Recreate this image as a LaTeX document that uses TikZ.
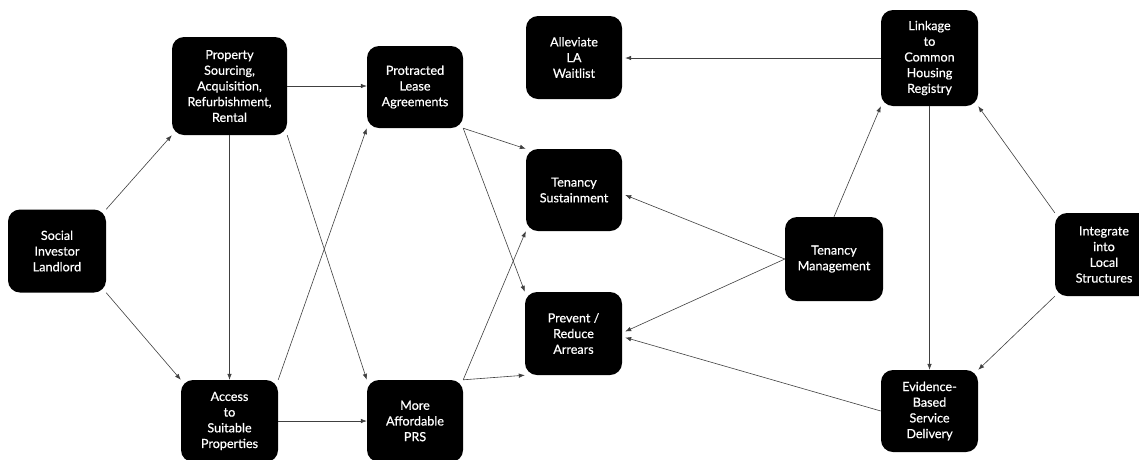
\documentclass[tikz,border=0pt]{standalone}
\usepackage{fontspec}
\setmainfont{Lato}
\newfontfamily\boxfont{Lato}[FakeBold=0.6]
\usetikzlibrary{arrows.meta}
\begin{document}
\begin{tikzpicture}[x=1pt,y=-1pt,
  box/.style={fill=black, rounded corners=12pt, text=white, align=center,
    inner sep=0pt, minimum width=97pt, font=\boxfont\fontsize{12.6}{15.7}\selectfont},
  arr/.style={draw=black!75, line width=0.6pt, -{Latex[length=6pt,width=4.5pt]}}]
\useasboundingbox (0,0) rectangle (1139,459);
\fill[white] (0,0) rectangle (1139,459);

\node[box, minimum width=98pt, minimum height=83pt] (sil) at (57,251) {Social\\Investor\\Landlord};
\node[box, minimum width=115pt, minimum height=98pt] (ps) at (229.5,86) {Property\\Sourcing,\\Acquisition,\\Refurbishment,\\Rental};
\node[box, minimum height=82pt] (acc) at (229.5,421) {Access\\to\\Suitable\\Properties};
\node[box, minimum width=96pt, minimum height=82pt] (pla) at (415,87) {Protracted\\Lease\\Agreements};
\node[box, minimum width=96pt, minimum height=82pt] (ma) at (415,421) {More\\Affordable\\PRS};
\node[box, minimum width=96pt, minimum height=83pt] (al) at (574,57.5) {Alleviate\\LA\\Waitlist};
\node[box, minimum width=96pt, minimum height=82pt] (ts) at (574,190) {Tenancy\\Sustainment};
\node[box, minimum width=97pt, minimum height=83pt] (pr) at (573.5,333.5) {Prevent /\\Reduce\\Arrears};
\node[box, minimum height=96pt] (lk) at (929.5,58) {Linkage\\to\\Common\\Housing\\Registry};
\node[box, minimum width=98pt, minimum height=84pt] (tm) at (834,259) {Tenancy\\Management};
\node[box, minimum width=98pt, minimum height=83pt] (it) at (1104,254.5) {Integrate\\into\\Local\\Structures};
\node[box, minimum height=82pt] (ev) at (929.5,411) {Evidence-\\Based\\Service\\Delivery};

\draw[arr] (sil.north east) -- (ps.south west);
\draw[arr] (sil.south east) -- (acc.north west);
\draw[arr] (ps.east) -- (ps.east -| pla.west);
\draw[arr] (ps.south) -- (acc.north);
\draw[arr] (ps.south east) -- (ma.north west);
\draw[arr] (acc.north east) -- (pla.south west);
\draw[arr] (acc.east) -- (acc.east -| ma.west);
\draw[arr] (pla.south east) -- (ts.north west);
\draw[arr] (pla.south east) -- (pr.north west);
\draw[arr] (ma.north east) -- (ts.south west);
\draw[arr] (ma.north east) -- (pr.south west);
\draw[arr] (tm.west) -- ([xshift=3pt,yshift=-5pt]ts.east);
\draw[arr] (tm.west) -- ([xshift=3pt,yshift=2pt]pr.east);
\draw[arr] (tm.north) -- (lk.south west);
\draw[arr] (lk.west) -- ([xshift=3pt]lk.west -| al.east);
\draw[arr] (lk.south) -- (ev.north);
\draw[arr] (it.north west) -- (lk.south east);
\draw[arr] (it.south west) -- (ev.north east);
\draw[arr] (ev.west) -- ([xshift=3pt,yshift=-4pt]pr.east);
\end{tikzpicture}
\end{document}
